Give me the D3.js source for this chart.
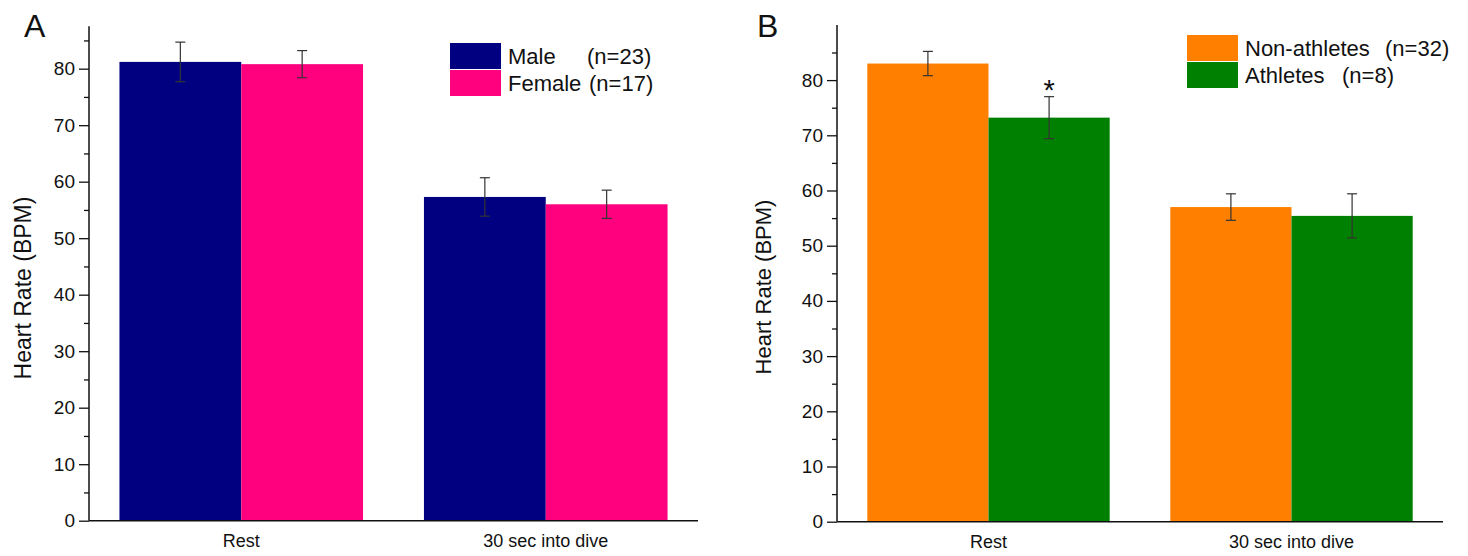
<!DOCTYPE html>
<html>
<head>
<meta charset="utf-8">
<script src="https://cdn.jsdelivr.net/npm/d3@7"></script>
<style>
  html, body { margin: 0; padding: 0; background: #ffffff; }
  svg { display: block; font-family: Arial, "Liberation Sans", Helvetica, sans-serif; }
</style>
</head>
<body>
<svg id="chart" width="1468" height="556"></svg>
<script>
// ---------- data ----------
const categories = ["Rest", "30 sec into dive"];

const seriesA = ["Male", "Female"];
const countsA = ["(n=23)", "(n=17)"];
const colorsA = ["#000080", "#ff007f"];
const maleMean = [81.2, 57.3];
const maleErr = [3.5, 3.4];
const femaleMean = [80.8, 56.0];
const femaleErr = [2.4, 2.5];

const seriesB = ["Non-athletes", "Athletes"];
const countsB = ["(n=32)", "(n=8)"];
const colorsB = ["#ff8000", "#008000"];
const nonAthMean = [83.0, 57.0];
const nonAthErr = [2.2, 2.4];
const athMean = [73.2, 55.4];
const athErr = [3.8, 4.0];

const majorTicks = [0, 10, 20, 30, 40, 50, 60, 70, 80];
const minorTicks = [5, 15, 25, 35, 45, 55, 65, 75, 85];
const yLabel = "Heart Rate (BPM)";
const significance = [{ series: 1, category: 0, mark: "*" }]; // panel B

// ---------- drawing ----------
const svg = d3.select("#chart");

function panel(opts) {
  const g = svg.append("g");
  const y = d3.scaleLinear().domain([0, opts.yMax]).range([opts.y0, opts.yTop]);
  const x0 = d3.scaleBand().domain(categories).range([opts.xL, opts.xR])
    .paddingInner(0.2).paddingOuter(0.1);
  const x1 = d3.scaleBand().domain(opts.series).range([0, x0.bandwidth()]).padding(0);

  const rows = [];
  categories.forEach((c, i) => {
    opts.series.forEach((s, j) => {
      rows.push({ cat: c, ci: i, ser: s, sj: j, v: opts.means[j][i], e: opts.errs[j][i] });
    });
  });

  // bars
  g.selectAll("rect.bar").data(rows).enter().append("rect")
    .attr("class", "bar")
    .attr("x", d => x0(d.cat) + x1(d.ser))
    .attr("width", x1.bandwidth())
    .attr("y", d => y(d.v))
    .attr("height", d => y(0) - y(d.v))
    .attr("fill", d => opts.colors[d.sj]);

  // error bars
  const eb = g.selectAll("g.err").data(rows).enter().append("g").attr("class", "err")
    .attr("stroke", "#333").attr("stroke-width", 1.2);
  eb.append("line")
    .attr("x1", d => x0(d.cat) + x1(d.ser) + x1.bandwidth() / 2)
    .attr("x2", d => x0(d.cat) + x1(d.ser) + x1.bandwidth() / 2)
    .attr("y1", d => y(d.v - d.e)).attr("y2", d => y(d.v + d.e));
  eb.append("line")
    .attr("x1", d => x0(d.cat) + x1(d.ser) + x1.bandwidth() / 2 - 5)
    .attr("x2", d => x0(d.cat) + x1(d.ser) + x1.bandwidth() / 2 + 5)
    .attr("y1", d => y(d.v + d.e)).attr("y2", d => y(d.v + d.e));
  eb.append("line")
    .attr("x1", d => x0(d.cat) + x1(d.ser) + x1.bandwidth() / 2 - 5)
    .attr("x2", d => x0(d.cat) + x1(d.ser) + x1.bandwidth() / 2 + 5)
    .attr("y1", d => y(d.v - d.e)).attr("y2", d => y(d.v - d.e));

  // significance marks
  (opts.sig || []).forEach(s => {
    const d = rows.find(r => r.ci === s.category && r.sj === s.series);
    g.append("text")
      .attr("x", x0(d.cat) + x1(d.ser) + x1.bandwidth() / 2)
      .attr("y", y(d.v + d.e) + 3)
      .attr("text-anchor", "middle")
      .attr("font-size", 29)
      .attr("fill", "#111")
      .text(s.mark);
  });

  // y axis (major ticks with labels)
  const yAxis = d3.axisLeft(y).tickValues(majorTicks).tickSize(10).tickPadding(4)
    .tickFormat(d3.format("d"));
  const ya = g.append("g").attr("transform", `translate(${opts.xL},0)`).call(yAxis);
  ya.select(".domain").attr("d", `M0,${opts.y0}V${opts.yTop}`).attr("stroke", "#111").attr("stroke-width", 1.5);
  ya.selectAll(".tick line").attr("stroke", "#111").attr("stroke-width", 1.3);
  ya.selectAll(".tick text").attr("font-size", 19).attr("fill", "#111")
    .attr("font-family", "Arial, 'Liberation Sans', sans-serif");
  // minor ticks
  const yMinor = d3.axisLeft(y).tickValues(minorTicks).tickSize(5).tickFormat("");
  const ym = g.append("g").attr("transform", `translate(${opts.xL},0)`).call(yMinor);
  ym.select(".domain").remove();
  ym.selectAll(".tick line").attr("stroke", "#111").attr("stroke-width", 1.3);

  // x axis
  const xAxis = d3.axisBottom(x0).tickSize(0).tickPadding(14);
  const xa = g.append("g").attr("transform", `translate(0,${opts.y0})`).call(xAxis);
  xa.select(".domain").attr("d", `M${opts.xL},0H${opts.xR}`).attr("stroke", "#111").attr("stroke-width", 1.5);
  xa.selectAll(".tick text").attr("font-size", 18).attr("fill", "#111")
    .attr("font-family", "Arial, 'Liberation Sans', sans-serif");

  // y label
  g.append("text")
    .attr("transform", `translate(${opts.yLabelX},${opts.yLabelY}) rotate(-90)`)
    .attr("text-anchor", "middle")
    .attr("font-size", opts.yLabelSize)
    .attr("fill", "#111")
    .text(yLabel);

  // panel letter
  g.append("text").attr("x", opts.letterX).attr("y", 37)
    .attr("font-size", 32).attr("fill", "#111").text(opts.letter);

  // legend
  const lg = g.append("g");
  opts.series.forEach((s, j) => {
    lg.append("rect")
      .attr("x", opts.legX).attr("y", opts.legY + j * 27)
      .attr("width", 51).attr("height", 26)
      .attr("fill", opts.colors[j]);
    lg.append("text")
      .attr("x", opts.legX + 58).attr("y", opts.legY + j * 27 + 21)
      .attr("font-size", 22).attr("fill", "#111").text(s);
    lg.append("text")
      .attr("x", opts.countX[j]).attr("y", opts.legY + j * 27 + 21)
      .attr("font-size", 22).attr("fill", "#111").text(opts.counts[j]);
  });
}

panel({
  series: seriesA, colors: colorsA, counts: countsA,
  means: [maleMean, femaleMean], errs: [maleErr, femaleErr],
  yMax: 87.5, y0: 520.7, yTop: 26.3, xL: 89, xR: 698,
  yLabelX: 31, yLabelY: 288, yLabelSize: 23, letter: "A", letterX: 24,
  legX: 450, legY: 43, countX: [587, 589]
});

panel({
  series: seriesB, colors: colorsB, counts: countsB,
  means: [nonAthMean, athMean], errs: [nonAthErr, athErr],
  yMax: 90, y0: 521.7, yTop: 24.9, xL: 837, xR: 1443,
  yLabelX: 771, yLabelY: 287, yLabelSize: 22, letter: "B", letterX: 757,
  legX: 1187, legY: 35, countX: [1385, 1342],
  sig: significance
});
</script>
</body>
</html>
